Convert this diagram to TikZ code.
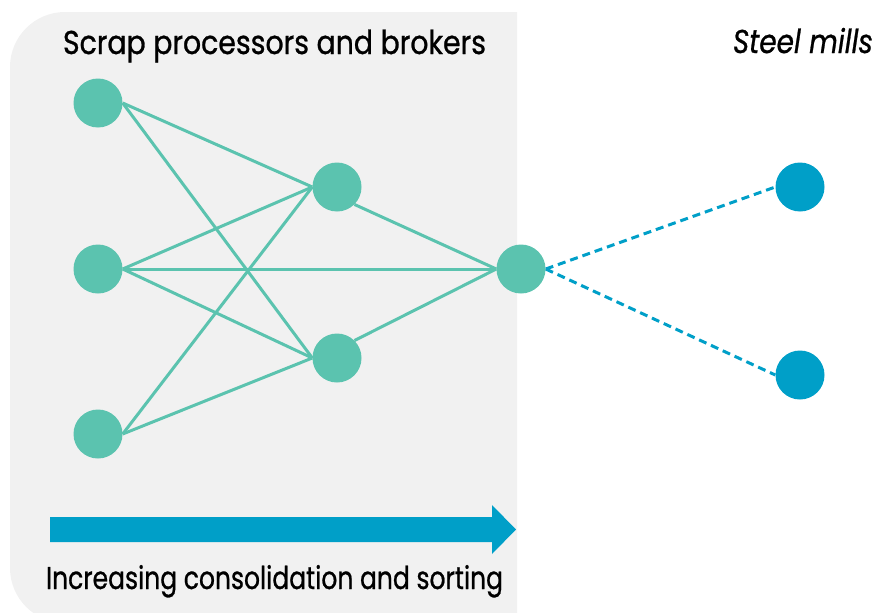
\documentclass[tikz,border=0pt]{standalone}
\usepackage{fontspec}
\setmainfont{Poppins}[FakeBold=0.9]
\usepackage{graphicx}
\definecolor{panelgray}{HTML}{F1F1F1}
\definecolor{teal}{HTML}{5BC3AF}
\definecolor{steelblue}{HTML}{009FC8}
\pgfdeclarelayer{panel}
\pgfdeclarelayer{edges}
\pgfsetlayers{panel,edges,main}
\tikzset{
  dealer/.style={circle, fill=teal, inner sep=0pt, minimum size=49pt},
  mill/.style={circle, fill=steelblue, inner sep=0pt, minimum size=49pt},
  flow/.style={draw=teal, line width=3pt},
  supply/.style={draw=steelblue, line width=3pt, dash pattern=on 8pt off 5pt},
  caption/.style={inner sep=0pt, text=black}
}
\begin{document}
\begin{tikzpicture}[x=1pt, y=-1pt]
\useasboundingbox (0,0) rectangle (876,613);

% shaded region of processors and brokers
\begin{pgfonlayer}{panel}
\fill[panelgray] (517,12) {[rounded corners=55pt] -- (10,12) -- (10,623)} -- (517,623) -- cycle;
\end{pgfonlayer}

% headings
\node[caption, anchor=base] (title) at (274.5,54)
  {\resizebox{423pt}{\height}{\fontsize{33}{33}\selectfont Scrap processors and brokers}};
\node[caption, anchor=base] (mills) at (803,53)
  {\resizebox{140pt}{\height}{\fontsize{33}{33}\selectfont\itshape Steel mills}};

% network
\node[dealer] (l1) at (98,103) {};
\node[dealer] (l2) at (98,269) {};
\node[dealer] (l3) at (98,434) {};
\node[dealer] (m1) at (337,187) {};
\node[dealer] (m2) at (337,358) {};
\node[dealer] (hub) at (521,269) {};
\node[mill] (s1) at (800,187) {};
\node[mill] (s2) at (800,375) {};

\begin{pgfonlayer}{edges}
\foreach \a in {l1,l2,l3}{
  \draw[flow] (\a.east) -- (m1.west);
  \draw[flow] (\a.east) -- (m2.west);
}
\draw[flow] (l2.east) -- (hub.west);
\draw[flow] (m1.-45) -- (hub.west);
\draw[flow] (m2.45) -- (hub.west);
\draw[supply] (hub.east) -- (s1.west);
\draw[supply] (hub.east) -- (s2.west);
\end{pgfonlayer}

% direction arrow
\fill[steelblue] (50,517) -- (492,517) -- (492,505) -- (516,529.5) -- (492,554)
  -- (492,542) -- (50,542) -- cycle;
\node[caption, anchor=base] (trend) at (274.5,589)
  {\resizebox{457pt}{\height}{\fontsize{31.5}{31.5}\selectfont Increasing consolidation and sorting}};
\end{tikzpicture}
\end{document}
